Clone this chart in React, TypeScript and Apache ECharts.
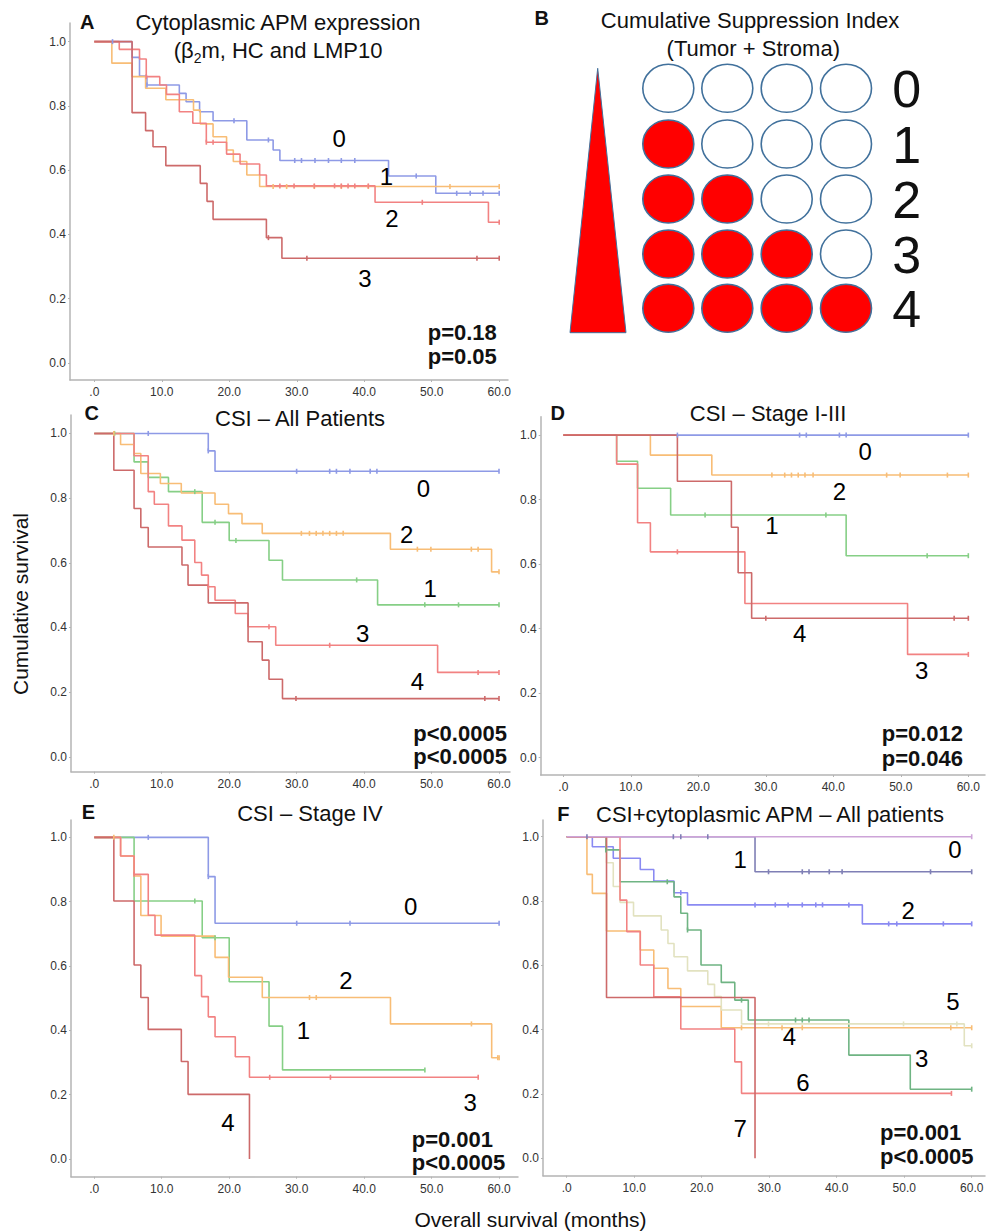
import React, { useEffect, useRef } from "react";
import * as echarts from "echarts";

type Step = [number, number];
type Lab = [string, number, number];

const xTicks = [0, 10, 20, 30, 40, 50, 60];
const yTicks = [0, 0.2, 0.4, 0.6, 0.8, 1.0];

// ---------- Panel A: cytoplasmic APM expression ----------
const aSteps0: Step[] = [[5.6, 0.951], [6.7, 0.893], [7.8, 0.865], [12.6, 0.839], [13.6, 0.813], [15.6, 0.782], [17.6, 0.754], [22.6, 0.694], [26.5, 0.663], [27.5, 0.63], [43.6, 0.582], [50.6, 0.528]];
const aCens0 = [2.7, 7.8, 20.7, 25.8, 29.7, 30.7, 32.7, 34.7, 36.6, 38.6, 47.7, 53.7, 55.7, 57.6, 60];
const aSteps1: Step[] = [[2.6, 0.933], [5.6, 0.891], [7.6, 0.855], [10.6, 0.819], [14.7, 0.787], [15.7, 0.744], [17.6, 0.704], [19.6, 0.663], [20.6, 0.627], [22.6, 0.585], [24.5, 0.549]];
const aCens1 = [26.5, 28.5, 32.6, 36.6, 40.6, 52.7, 60];
const aSteps2: Step[] = [[3.7, 0.976], [6.7, 0.946], [7.7, 0.891], [9.7, 0.865], [10.7, 0.836], [12.6, 0.782], [14.6, 0.746], [16.6, 0.687], [19.6, 0.65], [21.6, 0.619], [24.5, 0.585], [25.5, 0.551], [41.6, 0.5], [58.4, 0.438]];
const aCens2 = [7.7, 16.6, 17.6, 27.5, 29.6, 32.6, 35.6, 36.6, 37.6, 38.6, 40.6, 48.6, 60];
const aSteps3: Step[] = [[5.6, 0.779], [7.6, 0.723], [8.7, 0.673], [10.6, 0.614], [15.7, 0.559], [16.7, 0.503], [17.6, 0.447], [25.5, 0.39], [27.8, 0.326]];
const aCens3 = [25.8, 31.5, 56.7, 60];
const aLabels: Lab[] = [["0", 36.3, 0.7], ["1", 43.3, 0.58], ["2", 44.1, 0.45], ["3", 40.1, 0.264]];

// ---------- Panel C: CSI - all patients ----------
const cSteps0: Step[] = [[16.9, 0.946], [17.9, 0.883]];
const cCens0 = [8, 16.9, 30, 34.9, 35.9, 37.9, 40.9, 41.9, 60];
const cSteps1: Step[] = [[5.9, 0.912], [8, 0.864], [11, 0.82], [16, 0.725], [20, 0.669], [25.9, 0.608], [27.9, 0.547], [42, 0.47]];
const cCens1 = [3, 14.9, 17.9, 21, 38.9, 49, 54, 60];
const cSteps2: Step[] = [[3.9, 0.966], [5.9, 0.938], [6.9, 0.876], [9.8, 0.845], [12.9, 0.816], [17.9, 0.781], [19.9, 0.752], [21.9, 0.721], [24.9, 0.691], [43.9, 0.642], [58.9, 0.572]];
const cCens2 = [2.9, 30.7, 31.9, 32.9, 33.9, 34.9, 35.9, 36.9, 47.9, 49.9, 55.9, 56.9, 60];
const cSteps3: Step[] = [[5.9, 0.931], [8, 0.82], [8.9, 0.781], [11, 0.714], [13, 0.67], [14.9, 0.601], [15.9, 0.562], [16.9, 0.526], [17.9, 0.484], [20.9, 0.443], [22.8, 0.402], [26.9, 0.345], [50.9, 0.261]];
const cCens3 = [16.9, 25.9, 34.9, 56.9, 60];
const cSteps4: Step[] = [[2.9, 0.886], [5.9, 0.768], [6.9, 0.709], [8, 0.649], [13, 0.593], [13.9, 0.531], [16.9, 0.476], [22.8, 0.356], [24.9, 0.299], [25.9, 0.24], [27.9, 0.18]];
const cCens4 = [29.9, 57.9, 60];
const cLabels: Lab[] = [["0", 48.8, 0.83], ["2", 46.3, 0.689], ["1", 49.8, 0.521], ["3", 39.8, 0.382], ["4", 47.9, 0.232]];

// ---------- Panel D: CSI - stage I-III ----------
const dSteps0: Step[] = [];
const dCens0 = [16.9, 35, 36, 40.9, 41.9, 60];
const dSteps1: Step[] = [[7.9, 0.919], [11, 0.835], [15.9, 0.752], [41.9, 0.626]];
const dCens1 = [21, 38.9, 53.9, 60];
const dSteps2: Step[] = [[12.9, 0.938], [22, 0.876]];
const dCens2 = [30.9, 32.8, 33.8, 34.8, 35.8, 37, 47.9, 49.9, 56.9, 60];
const dSteps3: Step[] = [[7.9, 0.91], [11, 0.728], [12.9, 0.638], [26.9, 0.478], [51, 0.32]];
const dCens3 = [16.9, 60];
const dSteps4: Step[] = [[16.9, 0.857], [24.9, 0.714], [25.9, 0.573], [27.9, 0.432]];
const dCens4 = [30, 57.9, 60];
const dLabels: Lab[] = [["0", 44.7, 0.948], ["2", 40.9, 0.824], ["1", 30.9, 0.719], ["4", 35.0, 0.385], ["3", 53.1, 0.269]];

// ---------- Panel E: CSI - stage IV ----------
const eSteps0: Step[] = [[16.9, 0.878], [17.9, 0.733]];
const eCens0 = [8, 16.9, 30, 37.9, 60];
const eSteps1: Step[] = [[5.9, 0.802], [16, 0.688], [20, 0.551], [25.9, 0.413], [27.9, 0.277]];
const eCens1 = [14.9, 17.9, 49];
const eSteps2: Step[] = [[3.9, 0.942], [5.9, 0.88], [6.9, 0.757], [9.9, 0.693], [17.9, 0.627], [19.9, 0.565], [24.9, 0.502], [43.9, 0.42], [58.9, 0.315]];
const eCens2 = [2.9, 31.9, 32.9, 55.9, 59.8, 60];
const eSteps3: Step[] = [[3.9, 0.942], [5.9, 0.885], [8, 0.758], [9, 0.696], [14.9, 0.57], [15.9, 0.505], [16.9, 0.442], [17.9, 0.38], [20.9, 0.318], [23, 0.254]];
const eCens3 = [5.9, 26, 35, 56.9];
const eSteps4: Step[] = [[2.9, 0.802], [5.9, 0.603], [6.9, 0.502], [8, 0.403], [12.9, 0.303], [13.9, 0.201], [23, 0]];
const eCens4: number[] = [];
const eLabels: Lab[] = [["0", 46.9, 0.786], ["2", 37.3, 0.556], ["1", 31.0, 0.399], ["3", 55.7, 0.175], ["4", 19.8, 0.113]];

// ---------- Panel F: CSI + cytoplasmic APM ----------
const fSteps0: Step[] = [];
const fCens0 = [60];
const fSteps1: Step[] = [[27.9, 0.891]];
const fCens1 = [3, 15.8, 16.9, 20.9, 29.9, 34.9, 35.9, 38.9, 40.8, 53.9, 60];
const fSteps2: Step[] = [[3.8, 0.969], [6.9, 0.933], [10.9, 0.898], [12.9, 0.862], [15.9, 0.826], [17.9, 0.788], [43.8, 0.729]];
const fCens2 = [16.9, 27.9, 30.9, 32.8, 34.9, 36.9, 37.9, 41.8, 47.7, 48.9, 55.8, 60];
const fSteps3: Step[] = [[5.8, 0.959], [7.9, 0.86], [15.9, 0.813], [16.9, 0.762], [17.9, 0.71], [19.9, 0.601], [22.9, 0.547], [24.9, 0.492], [26.9, 0.43], [41.8, 0.321], [50.9, 0.215]];
const fCens3 = [5.8, 14.9, 17.9, 25.9, 33.9, 34.9, 35.9, 60];
const fSteps4: Step[] = [[3, 0.883], [3.8, 0.824], [5.9, 0.707], [10.9, 0.648], [12.9, 0.591], [15, 0.528], [16.9, 0.472], [22.9, 0.406]];
const fCens4 = [25.9, 31.9, 34.9, 56.9, 60];
const fSteps5: Step[] = [[5.9, 0.919], [6.9, 0.845], [7.9, 0.796], [9.9, 0.754], [14, 0.71], [15, 0.668], [15.9, 0.627], [17.9, 0.583], [20.9, 0.541], [21.9, 0.503], [22.9, 0.461], [25.9, 0.418], [58.9, 0.35]];
const fCens5 = [29.9, 49.9, 57.8, 60];
const fSteps6: Step[] = [[7.9, 0.803], [8.9, 0.705], [10.9, 0.601], [12.9, 0.502], [16.9, 0.402], [24.9, 0.3], [25.9, 0.202]];
const fCens6 = [57];
const fSteps7: Step[] = [[5.9, 0.5], [27.9, 0]];
const fCens7: number[] = [];
const fLabels: Lab[] = [["0", 57.5, 0.961], ["1", 25.7, 0.928], ["2", 50.6, 0.772], ["5", 57.2, 0.487], ["4", 33.0, 0.378], ["3", 52.6, 0.311], ["6", 35.0, 0.235], ["7", 25.7, 0.093]];

const FONT = '"Liberation Sans", Arial, Helvetica, sans-serif';
const COL = {
  blue: "#8e9ae6",
  orange: "#f8bd76",
  green: "#86cf86",
  red: "#f28282",
  darkred: "#cd6a6a",
  pink: "#cda4d8",
  slate: "#7f7fb5",
  vblue: "#8a8af2",
  dgreen: "#6fb483",
  beige: "#e2e2c0",
};

function buildLine(steps: Step[], cens: number[]) {
  const pts: number[][] = [[0, 1], ...steps.map((s) => [s[0], s[1]])];
  const lastStepT = steps.length ? steps[steps.length - 1][0] : 0;
  const end = Math.max(lastStepT, ...(cens.length ? cens : [0]));
  const last = pts[pts.length - 1];
  if (end > last[0]) pts.push([end, last[1]]);
  return pts;
}
function valueAt(steps: Step[], t: number) {
  let v = 1;
  for (const s of steps) if (s[0] <= t) v = s[1];
  return v;
}

const panels = [
  {
    grid: { left: 70, top: 23, width: 438, height: 357 },
    x: [-3.6, 61.3], y: [-0.053, 1.058],
    curves: [
      { steps: aSteps0, cens: aCens0, color: COL.blue },
      { steps: aSteps1, cens: aCens1, color: COL.orange },
      { steps: aSteps2, cens: aCens2, color: COL.red },
      { steps: aSteps3, cens: aCens3, color: COL.darkred },
    ],
    labels: aLabels,
  },
  {
    grid: { left: 71, top: 415, width: 439, height: 356.7 },
    x: [-3.45, 61.63], y: [-0.046, 1.057],
    curves: [
      { steps: cSteps0, cens: cCens0, color: COL.blue },
      { steps: cSteps1, cens: cCens1, color: COL.green },
      { steps: cSteps2, cens: cCens2, color: COL.orange },
      { steps: cSteps3, cens: cCens3, color: COL.red },
      { steps: cSteps4, cens: cCens4, color: COL.darkred },
    ],
    labels: cLabels,
  },
  {
    grid: { left: 540.7, top: 416.7, width: 444.3, height: 358.3 },
    x: [-3.35, 62.47], y: [-0.054, 1.057],
    curves: [
      { steps: dSteps0, cens: dCens0, color: COL.blue },
      { steps: dSteps1, cens: dCens1, color: COL.green },
      { steps: dSteps2, cens: dCens2, color: COL.orange },
      { steps: dSteps3, cens: dCens3, color: COL.red },
      { steps: dSteps4, cens: dCens4, color: COL.darkred },
    ],
    labels: dLabels,
  },
  {
    grid: { left: 71, top: 820, width: 447, height: 356.7 },
    x: [-3.45, 62.8], y: [-0.055, 1.054],
    curves: [
      { steps: eSteps0, cens: eCens0, color: COL.blue },
      { steps: eSteps1, cens: eCens1, color: COL.green },
      { steps: eSteps2, cens: eCens2, color: COL.orange },
      { steps: eSteps3, cens: eCens3, color: COL.red },
      { steps: eSteps4, cens: eCens4, color: COL.darkred },
    ],
    labels: eLabels,
  },
  {
    grid: { left: 543, top: 820, width: 442, height: 355.7 },
    x: [-3.51, 61.97], y: [-0.054, 1.052],
    curves: [
      { steps: fSteps1, cens: fCens1, color: COL.slate },
      { steps: fSteps2, cens: fCens2, color: COL.vblue },
      { steps: fSteps3, cens: fCens3, color: COL.dgreen },
      { steps: fSteps4, cens: fCens4, color: COL.orange },
      { steps: fSteps5, cens: fCens5, color: COL.beige },
      { steps: fSteps6, cens: fCens6, color: COL.red },
      { steps: fSteps7, cens: fCens7, color: COL.darkred },
      { steps: fSteps0, cens: fCens0, color: COL.pink },
    ],
    labels: fLabels,
  },
];

function txt(x: number, y: number, text: string, font: string, align = "center", extra: any = {}) {
  return {
    type: "text",
    x,
    y,
    ...extra,
    style: { text, font, fill: "#111", textAlign: align, align, textVerticalAlign: "middle", verticalAlign: "middle" },
  };
}

export default function App() {
  const ref = useRef<HTMLDivElement>(null);
  useEffect(() => {
    if (!ref.current) return;
    const chart = echarts.init(ref.current, null, { renderer: "svg" });
    const grid: any[] = [];
    const xAxis: any[] = [];
    const yAxis: any[] = [];
    const series: any[] = [];
    const axisCol = "#b4b4b4";
    panels.forEach((p, gi) => {
      grid.push({ ...p.grid, containLabel: false });
      xAxis.push({
        type: "value", gridIndex: gi, min: p.x[0], max: p.x[1],
        axisLine: { show: true, onZero: false, lineStyle: { color: axisCol, width: 1.5 } },
        axisTick: { show: true, customValues: xTicks, length: 2, lineStyle: { color: axisCol } },
        axisLabel: {
          customValues: xTicks, color: "#333", fontSize: 12, fontFamily: FONT, margin: 6,
          formatter: (v: number) => (v === 0 ? ".0" : v.toFixed(1)),
        },
        splitLine: { show: false },
      });
      yAxis.push({
        type: "value", gridIndex: gi, min: p.y[0], max: p.y[1],
        axisLine: { show: true, onZero: false, lineStyle: { color: axisCol, width: 1.5 } },
        axisTick: { show: true, customValues: yTicks, length: 2, lineStyle: { color: axisCol } },
        axisLabel: {
          customValues: yTicks, color: "#333", fontSize: 12, fontFamily: FONT, margin: 4,
          formatter: (v: number) => v.toFixed(1),
        },
        splitLine: { show: false },
      });
      p.curves.forEach((c) => {
        series.push({
          type: "line", xAxisIndex: gi, yAxisIndex: gi, step: "end",
          data: buildLine(c.steps, c.cens), showSymbol: false, silent: true,
          lineStyle: { color: c.color, width: 1.6 }, z: 2,
        });
        series.push({
          type: "scatter", xAxisIndex: gi, yAxisIndex: gi, silent: true,
          data: c.cens.map((t) => [t, valueAt(c.steps, t)]),
          symbol: "rect", symbolSize: [1.6, 5], itemStyle: { color: c.color, opacity: 1 }, z: 3,
        });
      });
      series.push({
        type: "scatter", xAxisIndex: gi, yAxisIndex: gi, silent: true,
        data: p.labels.map((l) => [l[1], l[2], l[0]]),
        symbolSize: 1, itemStyle: { color: "rgba(0,0,0,0)", opacity: 1 }, z: 5,
        label: {
          show: true, position: "inside", fontSize: 24, color: "#000", opacity: 1, fontFamily: FONT,
          formatter: (q: any) => String(q.value[2]),
        },
      });
    });

    const bold22 = `bold 22px ${FONT}`;
    const bold20 = `bold 20px ${FONT}`;
    const reg22 = `22px ${FONT}`;
    const graphic: any[] = [
      // panel letters
      txt(87.3, 21.7, "A", bold20),
      txt(541.7, 18.3, "B", bold20),
      txt(91.7, 413, "C", bold20),
      txt(557.7, 413.3, "D", bold20),
      txt(88.3, 811.7, "E", bold20),
      txt(563.3, 814, "F", bold20),
      // titles
      txt(278, 22.7, "Cytoplasmic APM expression", reg22),
      {
        type: "text", x: 278, y: 50,
        style: {
          text: "{n|(β}{s|2}{n|m, HC and LMP10}",
          textAlign: "center", align: "center", textVerticalAlign: "middle", verticalAlign: "middle",
          fill: "#111", font: reg22,
          rich: {
            n: { font: reg22, lineHeight: 30, fill: "#111" },
            s: { font: `14px ${FONT}`, lineHeight: 14, verticalAlign: "bottom", fill: "#111" },
          },
        },
      },
      txt(750, 20.7, "Cumulative Suppression Index", reg22),
      txt(753.3, 48.3, "(Tumor + Stroma)", reg22),
      txt(300, 418, "CSI – All Patients", reg22),
      txt(768, 413.3, "CSI – Stage I-III", reg22),
      txt(310, 813.3, "CSI – Stage IV", reg22),
      txt(770, 814, "CSI+cytoplasmic APM – All patients", reg22),
      // p-values
      txt(427.7, 332.7, "p=0.18", bold22, "left"),
      txt(427.7, 356, "p=0.05", bold22, "left"),
      txt(413.3, 733.3, "p<0.0005", bold22, "left"),
      txt(413.3, 756.7, "p<0.0005", bold22, "left"),
      txt(881.7, 733.3, "p=0.012", bold22, "left"),
      txt(881.7, 758.3, "p=0.046", bold22, "left"),
      txt(411.7, 1139, "p=0.001", bold22, "left"),
      txt(411.7, 1162.3, "p<0.0005", bold22, "left"),
      txt(880, 1132.7, "p=0.001", bold22, "left"),
      txt(880, 1156.7, "p<0.0005", bold22, "left"),
      // shared axis titles
      txt(20, 604, "Cumulative survival", `21px ${FONT}`, "center", { rotation: Math.PI / 2 }),
      txt(530.5, 1219.5, "Overall survival (months)", `21px ${FONT}`),
      // panel B triangle
      {
        type: "polygon",
        shape: { points: [[597.7, 68.3], [626, 332.7], [570, 332.7]] },
        style: { fill: "#ff0000", stroke: "#41719c", lineWidth: 1 },
      },
    ];
    const colX = [668.3, 727.3, 786.7, 846];
    const rowY = [88.3, 144, 199, 254, 308.3];
    rowY.forEach((cy, r) => {
      colX.forEach((cx, c) => {
        graphic.push({
          type: "ellipse",
          shape: { cx, cy, rx: 25.5, ry: 24 },
          style: { fill: c < r ? "#ff0000" : "#ffffff", stroke: "#41719c", lineWidth: 1.6 },
        });
      });
      graphic.push(txt(906.7, cy + 1, String(r), `52px ${FONT}`));
    });

    chart.setOption({
      animation: false,
      backgroundColor: "#ffffff",
      grid, xAxis, yAxis, series, graphic,
    });
    return () => chart.dispose();
  }, []);
  return (
    <div
      ref={ref}
      style={{ position: "absolute", left: 0, top: 0, width: 987, height: 1231 }}
    />
  );
}
